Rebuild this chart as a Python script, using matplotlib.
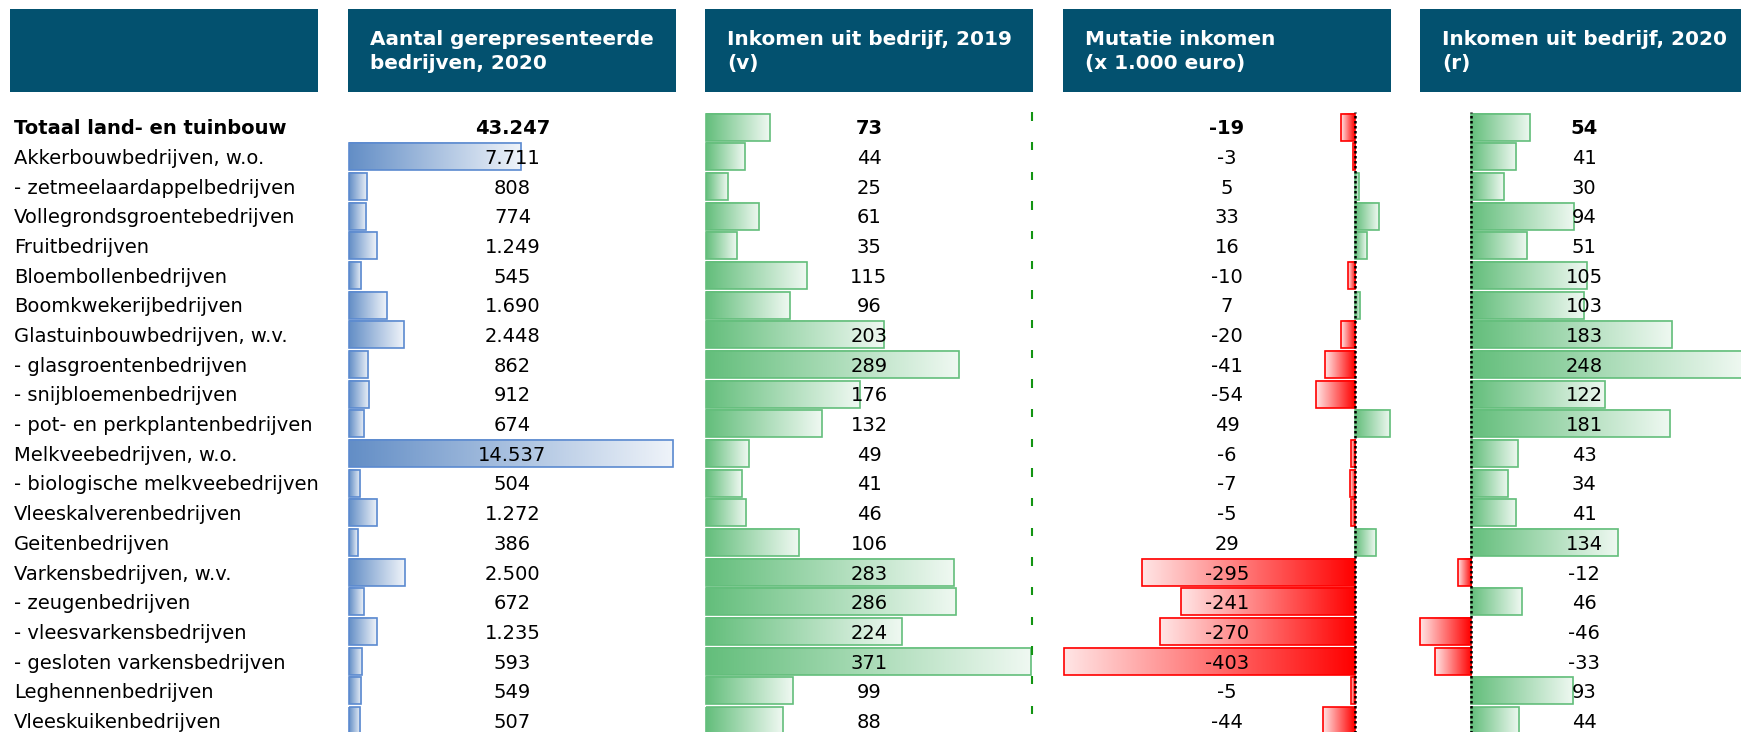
import matplotlib
matplotlib.use("Agg")
import matplotlib.pyplot as plt
import numpy as np
from matplotlib.colors import LinearSegmentedColormap, to_rgb
from matplotlib.patches import Rectangle

plt.rcParams["font.family"] = ["DejaVu Sans"]

labels = [
    "Totaal land- en tuinbouw",
    "Akkerbouwbedrijven, w.o.",
    "- zetmeelaardappelbedrijven",
    "Vollegrondsgroentebedrijven",
    "Fruitbedrijven",
    "Bloembollenbedrijven",
    "Boomkwekerijbedrijven",
    "Glastuinbouwbedrijven, w.v.",
    "- glasgroentenbedrijven",
    "- snijbloemenbedrijven",
    "- pot- en perkplantenbedrijven",
    "Melkveebedrijven, w.o.",
    "- biologische melkveebedrijven",
    "Vleeskalverenbedrijven",
    "Geitenbedrijven",
    "Varkensbedrijven, w.v.",
    "- zeugenbedrijven",
    "- vleesvarkensbedrijven",
    "- gesloten varkensbedrijven",
    "Leghennenbedrijven",
    "Vleeskuikenbedrijven",
]
headers = [
    "",
    "Aantal gerepresenteerde\nbedrijven, 2020",
    "Inkomen uit bedrijf, 2019\n(v)",
    "Mutatie inkomen\n(x 1.000 euro)",
    "Inkomen uit bedrijf, 2020\n(r)",
]
n_bedrijven = [43247, 7711, 808, 774, 1249, 545, 1690, 2448, 862, 912, 674,
               14537, 504, 1272, 386, 2500, 672, 1235, 593, 549, 507]
inkomen_2019 = [73, 44, 25, 61, 35, 115, 96, 203, 289, 176, 132,
                49, 41, 46, 106, 283, 286, 224, 371, 99, 88]
mutatie = [-19, -3, 5, 33, 16, -10, 7, -20, -41, -54, 49,
           -6, -7, -5, 29, -295, -241, -270, -403, -5, -44]
inkomen_2020 = [54, 41, 30, 94, 51, 105, 103, 183, 248, 122, 181,
                43, 34, 41, 134, -12, 46, -46, -33, 93, 44]

W, H = 1741, 732
FS = 14.0
HFS = 14.4
BAR_H = 0.91
HEAD_COLOR = "#03516F"
GREEN, RED, BLUE = "#63BE7B", "#FF0000", "#638EC6"
BLUE_EDGE = "#5B8AD0"

fig = plt.figure(figsize=(W / 100, H / 100), dpi=100)

# layout in pixels
row_top, row_step = 112.2, 29.68
boxes = [(10, 318), (348, 676), (705, 1033), (1063, 1391), (1420, 1748)]
n = len(labels)
rows = np.arange(n)


def light(c, f=0.9):
    rgb = np.array(to_rgb(c))
    return tuple(rgb + (1 - rgb) * f)


def col_axes(left, right, zero, ppu):
    bottom = row_top + n * row_step
    ax = fig.add_axes([left / W, (H - bottom) / H, (right - left) / W, n * row_step / H])
    ax.set_axis_off()
    ax._lims = ((left - zero) / ppu, (right - zero) / ppu)
    return ax


def finish(ax):
    ax.set_xlim(*ax._lims)
    ax.set_ylim(n - 0.5, -0.5)
    ax.set_aspect("auto")


def draw_bars(ax, r_idx, vals, pos, neg, pos_edge=None, neg_edge=None):
    grad = np.linspace(0, 1, 256).reshape(1, -1)
    edges = []
    for r, v in zip(r_idx, vals):
        c = pos if v > 0 else neg
        cmap = LinearSegmentedColormap.from_list("g", [c, light(c)])
        ax.imshow(grad, cmap=cmap, extent=(0, v, r + BAR_H / 2, r - BAR_H / 2),
                  aspect="auto", interpolation="bilinear", zorder=1, clip_on=False)
        edges.append((pos_edge or pos) if v > 0 else (neg_edge or neg))
    ax.barh(r_idx, vals, height=BAR_H, fill=False, edgecolor=edges, lw=1.2,
            zorder=2, clip_on=False)


def fmt(v):
    return f"{v:,}".replace(",", ".")


def values_text(ax, vals, xfrac):
    tr = ax.get_yaxis_transform()
    for r, v in zip(rows, vals):
        ax.text(xfrac, r + 0.06, fmt(v), transform=tr, ha="center", va="center",
                fontsize=FS, fontweight="bold" if r == 0 else "normal",
                color="black", zorder=3)


# header boxes
for (x0, x1), head in zip(boxes, headers):
    fig.add_artist(Rectangle((x0 / W, 1 - 92 / H), (x1 - x0) / W, 83 / H,
                             transform=fig.transFigure, color=HEAD_COLOR, lw=0))
    if head:
        fig.text((x0 + 22) / W, 1 - 51.5 / H, head, color="white", fontsize=HFS,
                 fontweight="bold", ha="left", va="center", linespacing=1.3)

# row labels
ax0 = col_axes(0, 318, 0, 318)
for r, lab in zip(rows, labels):
    ax0.text(14 / 318, r + 0.06, lab, transform=ax0.get_yaxis_transform(),
             ha="left", va="center", fontsize=FS,
             fontweight="bold" if r == 0 else "normal")
finish(ax0)

# aantal bedrijven
ax1 = col_axes(349, 676, 349, 0.02231)
draw_bars(ax1, rows[1:], n_bedrijven[1:], BLUE, BLUE, pos_edge=BLUE_EDGE)
values_text(ax1, n_bedrijven, 0.5)
finish(ax1)

# inkomen 2019
ax2 = col_axes(706, 1032, 706, 0.875)
draw_bars(ax2, rows, inkomen_2019, GREEN, RED)
values_text(ax2, inkomen_2019, 0.5)
ax2.vlines([1.0] * n, rows - 0.5, rows - 0.5 + 0.28, transform=ax2.get_yaxis_transform(),
           color="#139413", lw=1.5, clip_on=False)
finish(ax2)

# mutatie
ax3 = col_axes(1063, 1391, 1355, 0.7214)
draw_bars(ax3, rows, mutatie, GREEN, RED)
ax3.axvline(0, color="black", lw=1.8, ls=(0, (1, 1)), zorder=4)
values_text(ax3, mutatie, 0.5)
finish(ax3)

# inkomen 2020
ax4 = col_axes(1420, 1748, 1471, 1.10)
draw_bars(ax4, rows, inkomen_2020, GREEN, RED)
ax4.axvline(0, color="black", lw=1.8, ls=(0, (1, 1)), zorder=4)
values_text(ax4, inkomen_2020, 0.5)
finish(ax4)

fig.savefig("out.png", dpi=100)
